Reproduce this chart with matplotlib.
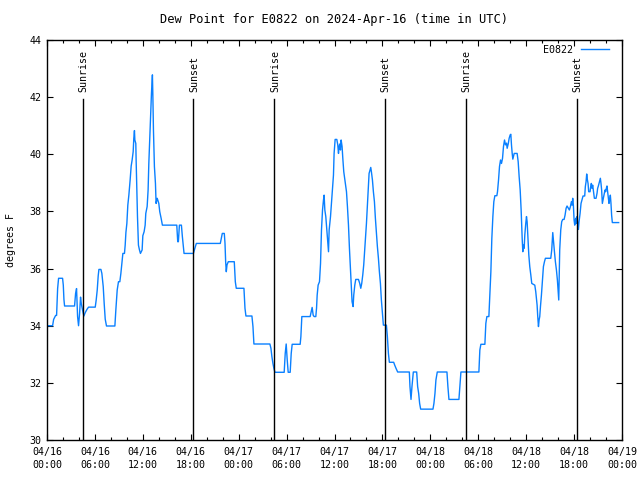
#!/usr/bin/env python

import numpy as np
import matplotlib
matplotlib.use('Agg')
import matplotlib.pyplot as plt
from matplotlib.ticker import MultipleLocator, FixedLocator, FixedFormatter

# hours since 2024-04-16 00:00 UTC
hours = [0.00, 0.70, 0.83, 1.08, 1.20, 1.33, 1.45, 1.95, 2.04, 2.12, 2.20, 3.45, 3.58, 3.70,
         3.83, 3.95, 4.08, 4.20, 4.29, 4.45, 4.62, 4.79, 5.00, 5.20, 6.04, 6.16, 6.29, 6.41,
         6.50, 6.75, 6.87, 7.04, 7.16, 7.29, 7.45, 8.50, 8.62, 8.79, 8.95, 9.12, 9.25, 9.37,
         9.50, 9.70, 9.79, 9.88, 10.00, 10.12, 10.25, 10.41, 10.54, 10.66, 10.79, 10.87,
         10.95, 11.00, 11.12, 11.16, 11.25, 11.33, 11.45, 11.58, 11.70, 11.91, 12.00, 12.16,
         12.29, 12.37, 12.54, 12.66, 12.75, 12.87, 13.00, 13.08, 13.20, 13.25, 13.33, 13.45,
         13.58, 13.66, 13.79, 13.87, 14.00, 14.12, 14.29, 14.45, 16.25, 16.37, 16.45, 16.58,
         16.83, 16.95, 17.16, 18.33, 18.45, 18.58, 18.70, 21.70, 21.82, 21.95, 22.20, 22.29,
         22.37, 22.45, 22.54, 22.70, 23.45, 23.58, 23.70, 24.66, 24.79, 24.91, 25.66, 25.79,
         25.91, 27.91, 28.04, 28.16, 28.29, 28.41, 28.54, 29.70, 29.83, 29.95, 30.08, 30.20,
         30.45, 30.58, 30.70, 31.70, 31.79, 31.91, 32.95, 33.08, 33.20, 33.33, 33.45, 33.66,
         33.75, 33.83, 33.95, 34.12, 34.25, 34.37, 34.50, 34.62, 34.70, 34.79, 34.91, 35.04,
         35.16, 35.25, 35.33, 35.50, 35.62, 35.75, 35.87, 35.95, 36.08, 36.29, 36.41, 36.50,
         36.58, 36.66, 36.75, 36.83, 36.95, 37.04, 37.16, 37.33, 37.50, 37.62, 37.75, 37.87,
         38.00, 38.12, 38.20, 38.33, 38.41, 38.54, 38.66, 39.00, 39.16, 39.29, 39.41, 39.54,
         39.66, 39.83, 40.00, 40.12, 40.25, 40.33, 40.45, 40.54, 40.62, 40.75, 40.87, 41.00,
         41.12, 41.25, 41.37, 41.50, 41.62, 41.75, 41.87, 42.00, 42.12, 42.50, 42.62, 42.75,
         42.87, 43.41, 43.54, 43.70, 43.91, 45.37, 45.45, 45.58, 45.70, 45.87, 46.29, 46.41,
         46.54, 46.66, 46.79, 48.33, 48.45, 48.58, 48.70, 48.87, 50.08, 50.20, 50.33, 51.58,
         51.70, 51.83, 54.08, 54.20, 54.33, 54.83, 54.95, 55.08, 55.33, 55.45, 55.58, 55.70,
         55.83, 55.95, 56.08, 56.33, 56.41, 56.54, 56.66, 56.79, 56.91, 57.04, 57.16, 57.29,
         57.41, 57.54, 57.62, 57.75, 57.87, 58.00, 58.08, 58.16, 58.25, 58.33, 58.41, 58.50,
         58.87, 59.00, 59.12, 59.25, 59.37, 59.50, 59.58, 59.66, 59.75, 59.83, 59.95, 60.04,
         60.12, 60.20, 60.33, 60.45, 60.58, 60.70, 61.08, 61.20, 61.29, 61.37, 61.45, 61.54,
         61.62, 61.70, 61.79, 61.91, 62.04, 62.16, 62.29, 62.41, 63.08, 63.20, 63.33, 63.41,
         63.54, 63.66, 63.79, 63.91, 64.00, 64.08, 64.12, 64.20, 64.33, 64.45, 64.58, 64.75,
         64.87, 65.00, 65.12, 65.29, 65.41, 65.54, 65.66, 65.75, 65.83, 65.91, 66.00, 66.08,
         66.20, 66.29, 66.37, 66.45, 66.54, 66.62, 66.75, 66.87, 67.00, 67.12, 67.33, 67.41,
         67.50, 67.58, 67.66, 67.75, 67.83, 68.00, 68.08, 68.16, 68.25, 68.33, 68.41, 68.54,
         68.75, 68.87, 68.95, 69.04, 69.12, 69.20, 69.29, 69.37, 69.45, 69.54, 69.62, 69.70,
         69.79, 69.87, 69.95, 70.04, 70.12, 70.20, 70.29, 70.37, 70.45, 70.54, 70.62, 70.70,
         70.79, 71.58]

dewpoint = [34.00, 34.00, 34.22, 34.36, 34.36, 35.30, 35.66, 35.66, 35.42, 34.92, 34.69, 34.69, 35.13, 35.30,
            34.32, 34.00, 34.43, 35.00, 34.78, 34.55, 34.34, 34.46, 34.57, 34.65, 34.65, 34.90, 35.25, 35.74,
            35.97, 35.97, 35.83, 35.37, 34.78, 34.23, 33.99, 33.99, 34.55, 35.25, 35.54, 35.54, 35.83, 36.18,
            36.53, 36.53, 36.82, 37.26, 37.58, 38.22, 38.57, 39.10, 39.59, 39.80, 40.09, 40.56,
            40.83, 40.50, 40.38, 39.80, 38.75, 37.82, 36.82, 36.65, 36.53, 36.65, 37.15, 37.29,
            37.52, 37.93, 38.17, 38.75, 39.68, 40.56, 41.43, 42.13, 42.78, 42.13, 40.84, 39.57,
            38.98, 38.28, 38.46, 38.40, 38.28, 37.99, 37.76, 37.52, 37.52, 36.94, 36.94, 37.52,
            37.52, 37.12, 36.53, 36.53, 36.65, 36.77, 36.88, 36.88, 37.05, 37.23, 37.23, 36.88,
            36.24, 35.89, 36.13, 36.24, 36.24, 35.54, 35.31, 35.31, 34.61, 34.34, 34.34, 33.97,
            33.36, 33.36, 33.21, 32.92, 32.68, 32.51, 32.37, 32.37, 33.03, 33.36, 32.80, 32.37,
            32.37, 33.03, 33.35, 33.35, 33.62, 34.32, 34.32, 34.49, 34.64, 34.37, 34.32, 34.32,
            34.61, 35.07, 35.42, 35.54, 36.18, 37.35, 38.05, 38.40, 38.57, 38.05, 37.82, 37.35,
            36.88, 36.59, 37.35, 37.82, 38.28, 38.81, 39.27, 40.03, 40.52, 40.52, 40.33, 40.03,
            40.27, 40.36, 40.15, 40.50, 40.27, 39.86, 39.39, 39.04, 38.69, 38.17, 37.52, 36.71,
            35.95, 35.31, 34.84, 34.67, 35.07, 35.42, 35.62, 35.62, 35.48, 35.31, 35.48, 35.78,
            36.13, 36.83, 37.58, 38.22, 38.92, 39.33, 39.45, 39.54, 39.39, 39.10, 38.69, 38.34,
            37.76, 37.23, 36.77, 36.36, 35.89, 35.48, 34.90, 34.43, 34.02, 34.02, 33.62, 33.03,
            32.72, 32.72, 32.62, 32.51, 32.38, 32.38, 31.87, 31.42, 31.87, 32.38, 32.38, 31.87,
            31.63, 31.28, 31.08, 31.08, 31.28, 31.63, 32.10, 32.38, 32.38, 31.87, 31.42, 31.42,
            31.87, 32.38, 32.38, 33.15, 33.35, 33.35, 34.08, 34.32, 34.32, 35.07, 35.89, 37.05,
            37.82, 38.34, 38.55, 38.55, 38.69, 39.10, 39.57, 39.80, 39.68, 39.86, 40.27, 40.50,
            40.33, 40.39, 40.21, 40.36, 40.56, 40.68, 40.70, 40.33, 40.03, 39.83, 39.92, 40.03,
            40.03, 39.74, 39.22, 38.75, 38.05, 37.06, 36.59, 36.82, 36.71, 37.18, 37.58, 37.82,
            37.64, 37.18, 36.48, 36.07, 35.78, 35.48, 35.42, 35.19, 34.96, 34.72, 34.32, 33.97,
            34.20, 34.32, 34.67, 35.07, 35.60, 36.07, 36.24, 36.36, 36.36, 36.65, 37.26, 37.00,
            36.59, 36.24, 35.95, 35.60, 35.25, 34.90, 35.48, 36.65, 37.35, 37.64, 37.72, 37.72,
            37.87, 38.11, 38.19, 38.11, 38.05, 38.17, 38.34, 38.22, 38.46, 38.22, 37.70, 37.52,
            37.76, 37.58, 37.82, 37.58, 37.37, 37.64, 37.93, 38.28, 38.42, 38.54, 38.54, 38.87,
            39.04, 39.31, 39.12, 38.98, 38.69, 38.69, 38.87, 38.98, 38.81, 38.92, 38.75, 38.46,
            38.46, 38.63, 38.81, 38.89, 38.98, 39.08, 39.16, 38.98, 38.75, 38.28, 38.40, 38.51,
            38.63, 38.75, 38.69, 38.81, 38.89, 38.69, 38.46, 38.28, 38.40, 38.57, 38.28, 37.87,
            37.61, 37.61]

sunrise = [4.50, 28.47, 52.45]
sunset = [18.33, 42.33, 66.33]

tick_hours = [0, 6, 12, 18, 24, 30, 36, 42, 48, 54, 60, 66, 72]
tick_labels = ['04/16\n00:00', '04/16\n06:00', '04/16\n12:00', '04/16\n18:00',
               '04/17\n00:00', '04/17\n06:00', '04/17\n12:00', '04/17\n18:00',
               '04/18\n00:00', '04/18\n06:00', '04/18\n12:00', '04/18\n18:00',
               '04/19\n00:00']

plt.rcParams['font.family'] = 'DejaVu Sans Mono'
plt.rcParams['font.size'] = 7.2

fig = plt.figure(figsize=(6.4, 4.8), dpi=100)
ax = fig.add_axes([47 / 640, 40 / 480, 575 / 640, 400 / 480])

ax.plot(hours, dewpoint, color='#0a80ff', lw=1.0, label='E0822')

for h in sunrise:
    ax.plot([h, h], [30, 41.93], color='black', lw=1.0)
    ax.text(h + 0.1, 42.18, 'Sunrise', rotation=90, ha='center', va='bottom')
for h in sunset:
    ax.plot([h, h], [30, 41.93], color='black', lw=1.0)
    ax.text(h + 0.1, 42.18, 'Sunset', rotation=90, ha='center', va='bottom')

ax.set_xlim(0, 72)
ax.set_ylim(30, 44)
ax.xaxis.set_major_locator(FixedLocator(tick_hours))
ax.xaxis.set_major_formatter(FixedFormatter(tick_labels))
ax.xaxis.set_minor_locator(MultipleLocator(2))
ax.yaxis.set_major_locator(MultipleLocator(2))
ax.tick_params(which='both', direction='in', top=True, right=True, width=0.8)
ax.tick_params(which='major', length=4.5, pad=4)
ax.tick_params(axis='x', which='major', pad=5)
ax.tick_params(which='minor', length=2.5)
for lbl in ax.get_xticklabels():
    lbl.set_linespacing(1.35)
for s in ax.spines.values():
    s.set_linewidth(1.0)

ax.set_ylabel('degrees F', labelpad=10)
ax.set_title('Dew Point for E0822 on 2024-Apr-16 (time in UTC)', pad=12)

ax.legend(loc='upper right', bbox_to_anchor=(1 - 8 / 575, 1), markerfirst=False,
          frameon=False, handlelength=2.8, handletextpad=0.8, borderaxespad=0.3,
          borderpad=0.2)

plt.savefig('out.png', dpi=100)
